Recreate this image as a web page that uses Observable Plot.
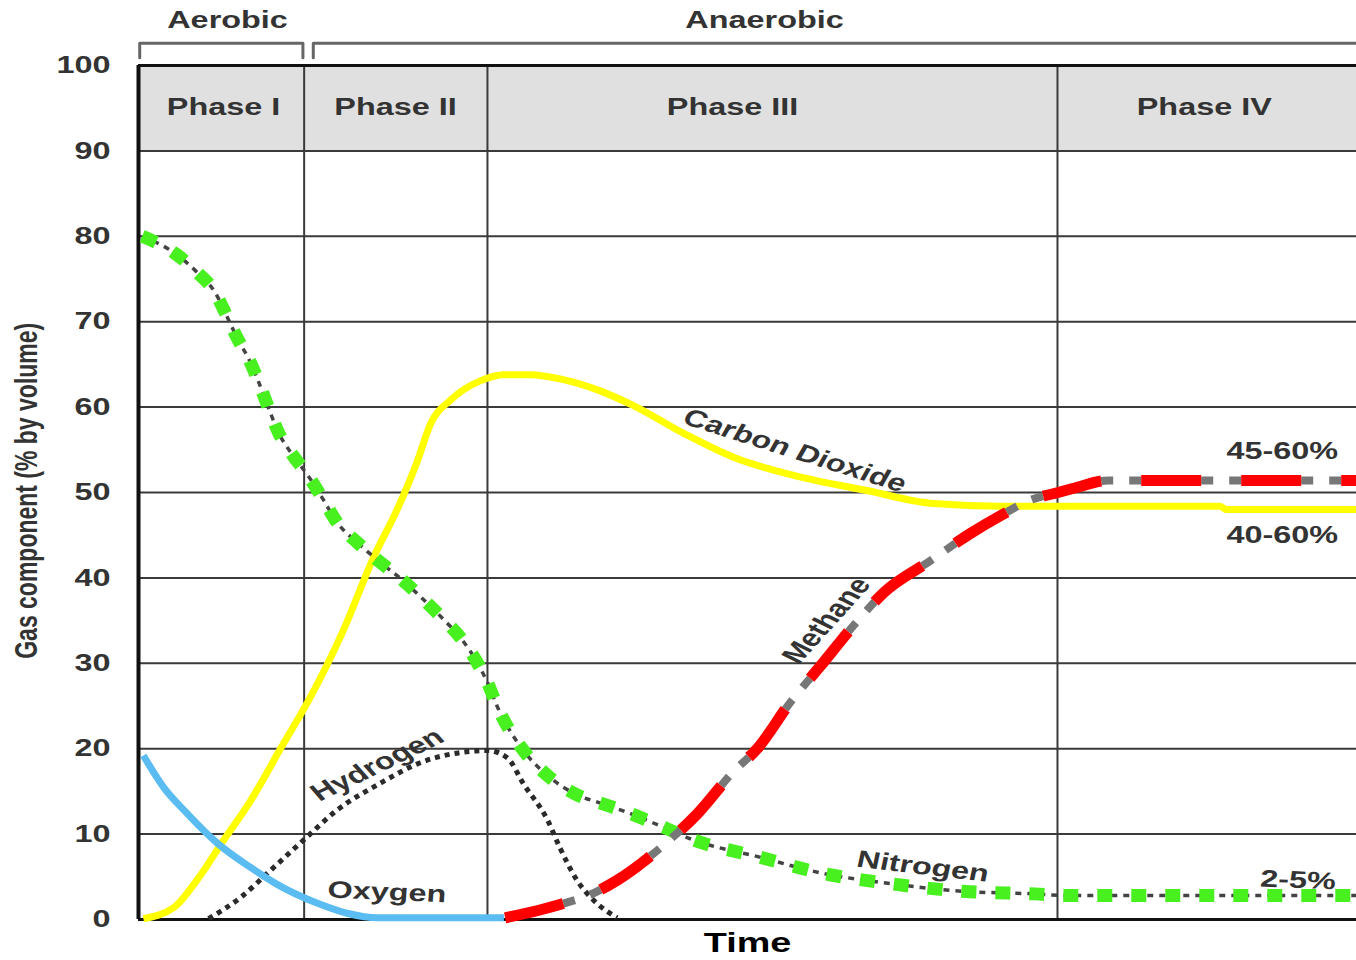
<!DOCTYPE html>
<html><head><meta charset="utf-8">
<script src="https://cdn.jsdelivr.net/npm/d3@7"></script>
<script src="https://cdn.jsdelivr.net/npm/@observablehq/plot@0.6"></script>
<style>
body{margin:0;background:#fff;}
</style></head><body>
<div id="chart"></div>
<script>
// ---- data ----
const phaseNames = ["Phase I", "Phase II", "Phase III", "Phase IV"];
const phaseBounds = [0, 13.6, 28.65, 75.45, 100];
const phaseLabelX = [6.98, 21.1, 48.77, 87.5];
const regimeNames = ["Aerobic", "Anaerobic"];
const regimeLabelX = [7.31, 51.4];
const yTicks = [0, 10, 20, 30, 40, 50, 60, 70, 80, 90, 100];
const yLabel = "Gas component (% by volume)";
const xLabel = "Time";

const n2Time  = [0.3, 3.0, 4.8, 6.3, 7.3, 8.1, 9.2, 9.9, 10.7, 11.5, 12.7, 14.0, 15.2, 16.3, 18.0, 19.7, 21.7, 23.3, 25.0, 26.6, 27.8, 28.7, 29.5, 31.6, 33.8, 36.0, 38.0, 40.4, 43.1, 45.6, 51.0, 56.2, 61.7, 67.7, 73.6, 76.4, 100];
const n2Value = [80, 78.0, 75.8, 73.4, 70.5, 68.1, 65.2, 62.8, 59.8, 57.0, 54.3, 51.8, 49.1, 46.5, 44.1, 42.0, 39.7, 37.6, 35.2, 32.7, 30.1, 27.6, 24.8, 19.8, 16.6, 14.6, 13.6, 12.4, 10.8, 9.3, 7.3, 5.4, 4.2, 3.3, 3.0, 2.8, 2.8];

const co2Time  = [0.4, 2.9, 4.8, 7.0, 9.2, 11.7, 14.1, 16.8, 19.3, 21.3, 22.9, 24.0, 25.6, 28.1, 30.0, 32.2, 34.6, 37.9, 40.6, 44.8, 48.9, 54.4, 59.9, 65.3, 70.8, 75.5, 88.8, 89.3, 100];
const co2Value = [0.1, 1.4, 4.6, 9.3, 13.9, 20.1, 26.0, 33.8, 42.4, 48.2, 53.7, 58.1, 60.8, 63.1, 63.8, 63.8, 63.3, 61.9, 60.2, 56.9, 54.1, 51.8, 50.2, 48.7, 48.4, 48.4, 48.4, 48.0, 48.0];

const o2Time  = [0.4, 2.05, 4.0, 6.5, 9.2, 11.9, 14.7, 17.2, 19.6, 30.0];
const o2Value = [19.2, 15.5, 12.4, 8.9, 6.1, 3.7, 1.9, 0.7, 0.2, 0.2];

const h2Time  = [5.75, 8.4, 10.8, 13.55, 16.3, 19.9, 23.2, 26.7, 28.65, 30.3, 31.6, 33.6, 34.6, 36.0, 37.4, 39.3];
const h2Value = [0.1, 2.6, 5.7, 9.3, 12.8, 16.0, 18.4, 19.6, 19.8, 18.9, 15.9, 11.6, 8.4, 4.6, 2.2, 0.2];

const ch4Time  = [30.1, 32.8, 35.2, 36.9, 39.3, 43.1, 45.9, 48.9, 50.8, 53.5, 56.0, 58.7, 61.2, 65.0, 68.3, 70.8, 73.2, 75.5, 76.8, 79.6, 100];
const ch4Value = [0.2, 1.05, 2.0, 2.8, 4.6, 8.7, 12.4, 17.4, 20.0, 25.4, 29.7, 34.4, 38.3, 42.0, 45.2, 47.3, 49.1, 50.0, 50.5, 51.4, 51.4];

const curveLabels = ["Carbon Dioxide", "Methane", "Hydrogen", "Oxygen", "Nitrogen"];
const curveLabelX = [53.9, 56.5, 19.6, 20.4, 64.4];
const curveLabelY = [54.9, 35.0, 18.1, 3.2, 6.2];
const curveLabelAngle = [23, -56, -33, 3, 9];

const rangeLabels = ["45-60%", "40-60%", "2-5%"];
const rangeLabelX = [93.9, 93.9, 95.2];
const rangeLabelY = [54.8, 45.0, 4.6];
const rangeLabelAngle = [0, 0, 3];

// ---- helpers ----
const rows = (t, v) => t.map((x, i) => ({t: x, v: v[i]}));
const n2 = rows(n2Time, n2Value);
const co2 = rows(co2Time, co2Value);
const o2 = rows(o2Time, o2Value);
const h2 = rows(h2Time, h2Value);
const ch4 = rows(ch4Time, ch4Value);

const FONT = "'Liberation Sans', Arial, Helvetica, sans-serif";
const INK = "#333";
const txt = {fontFamily: FONT, fontWeight: "bold", fontSize: 24, fill: INK};

const bracketTop = 102.6, bracketFoot = 100.9;
const aerobicBracket = [
  {t: phaseBounds[0] + 0.1, v: bracketFoot}, {t: phaseBounds[0] + 0.1, v: bracketTop},
  {t: phaseBounds[1] - 0.1, v: bracketTop}, {t: phaseBounds[1] - 0.1, v: bracketFoot}
];
const anaerobicBracket = [
  {t: phaseBounds[1] + 0.75, v: bracketFoot}, {t: phaseBounds[1] + 0.75, v: bracketTop},
  {t: phaseBounds[4], v: bracketTop}
];

const lineOpts = {x: "t", y: "v", curve: "monotone-x", strokeLinecap: "butt", strokeLinejoin: "round"};

const svg = Plot.plot({
  width: 1356,
  height: 960,
  marginLeft: 138,
  marginRight: 0,
  marginTop: 65,
  marginBottom: 41,
  style: {fontFamily: FONT, color: INK, background: "white", overflow: "visible"},
  x: {domain: [0, 100], axis: null},
  y: {domain: [0, 100], axis: null},
  marks: [
    // header band
    Plot.rect([0], {x1: phaseBounds[0], x2: phaseBounds[4], y1: 90, y2: 100, fill: "#e0e0e0"}),
    // grid
    Plot.ruleY(yTicks.filter(d => d > 0 && d < 100), {stroke: "#3a3a3a", strokeWidth: 2}),
    Plot.ruleX(phaseBounds.slice(1, 4), {y1: 0, y2: 100, stroke: "#3a3a3a", strokeWidth: 2}),
    Plot.ruleY([0, 100], {stroke: "#111", strokeWidth: 3}),
    Plot.ruleX([0], {y1: 0, y2: 100, stroke: "#111", strokeWidth: 4}),
    // brackets
    Plot.line(aerobicBracket, {x: "t", y: "v", stroke: "#666", strokeWidth: 3}),
    Plot.line(anaerobicBracket, {x: "t", y: "v", stroke: "#666", strokeWidth: 3}),
    // curves
    Plot.line(co2, {...lineOpts, stroke: "#ffff00", strokeWidth: 7}),
    Plot.line(h2, {...lineOpts, stroke: "#2a2a2a", strokeWidth: 5, strokeDasharray: "5,5"}),
    Plot.line(o2, {...lineOpts, stroke: "#5bbcf2", strokeWidth: 7}),
    Plot.line(n2, {...lineOpts, stroke: "#444", strokeWidth: 3.5, strokeDasharray: "6,6"}),
    Plot.line(n2, {...lineOpts, stroke: "#48f020", strokeWidth: 13, strokeDasharray: "15,19"}),
    Plot.line(ch4, {...lineOpts, stroke: "#777", strokeWidth: 8, strokeDasharray: "0,60,12,16,12,0"}),
    Plot.line(ch4, {...lineOpts, stroke: "#ff0000", strokeWidth: 11, strokeDasharray: "60,40"}),
    // header texts
    Plot.text(phaseNames, {x: (d, i) => phaseLabelX[i], y: 95.1, text: d => d, ...txt}),
    Plot.text(regimeNames, {x: (d, i) => regimeLabelX[i], y: 105.3, text: d => d, ...txt}),
    // curve labels
    Plot.text(curveLabels, {x: (d, i) => curveLabelX[i], y: (d, i) => curveLabelY[i], rotate: (d, i) => curveLabelAngle[i], text: d => d, ...txt}),
    Plot.text(rangeLabels, {x: (d, i) => rangeLabelX[i], y: (d, i) => rangeLabelY[i], rotate: (d, i) => rangeLabelAngle[i], text: d => d, ...txt}),
    // axis labels
    Plot.axisY(yTicks, {tickSize: 0, tickPadding: 28, fontSize: 24, fontWeight: "bold", fontFamily: FONT, fill: INK, label: null}),
    Plot.text([yLabel], {x: 0, y: 50.2, dx: -111, rotate: -90, text: d => d, fontFamily: FONT, fontWeight: "bold", fontSize: 23, fill: INK}),
    Plot.text([xLabel], {x: 50, y: -2.7, text: d => d, fontFamily: FONT, fontWeight: "bold", fontSize: 28, fill: "#000"})
  ]
});
document.getElementById("chart").append(svg);

// widen glyphs horizontally (the reference artwork is horizontally stretched)
const S = 1.35;
svg.querySelectorAll("text").forEach(t => {
  const x = parseFloat(t.getAttribute("x")) || 0;
  const y = parseFloat(t.getAttribute("y")) || 0;
  let X = x, Y = y;
  const tr = t.getAttribute("transform");
  if (tr) {
    const c = t.transform.baseVal.consolidate();
    if (c) { const m = c.matrix; X = m.a * x + m.c * y + m.e; Y = m.b * x + m.d * y + m.f; }
  }
  t.setAttribute("transform", `translate(${X},${Y}) scale(${S},1) translate(${-X},${-Y})` + (tr ? " " + tr : ""));
});
</script>
</body></html>
